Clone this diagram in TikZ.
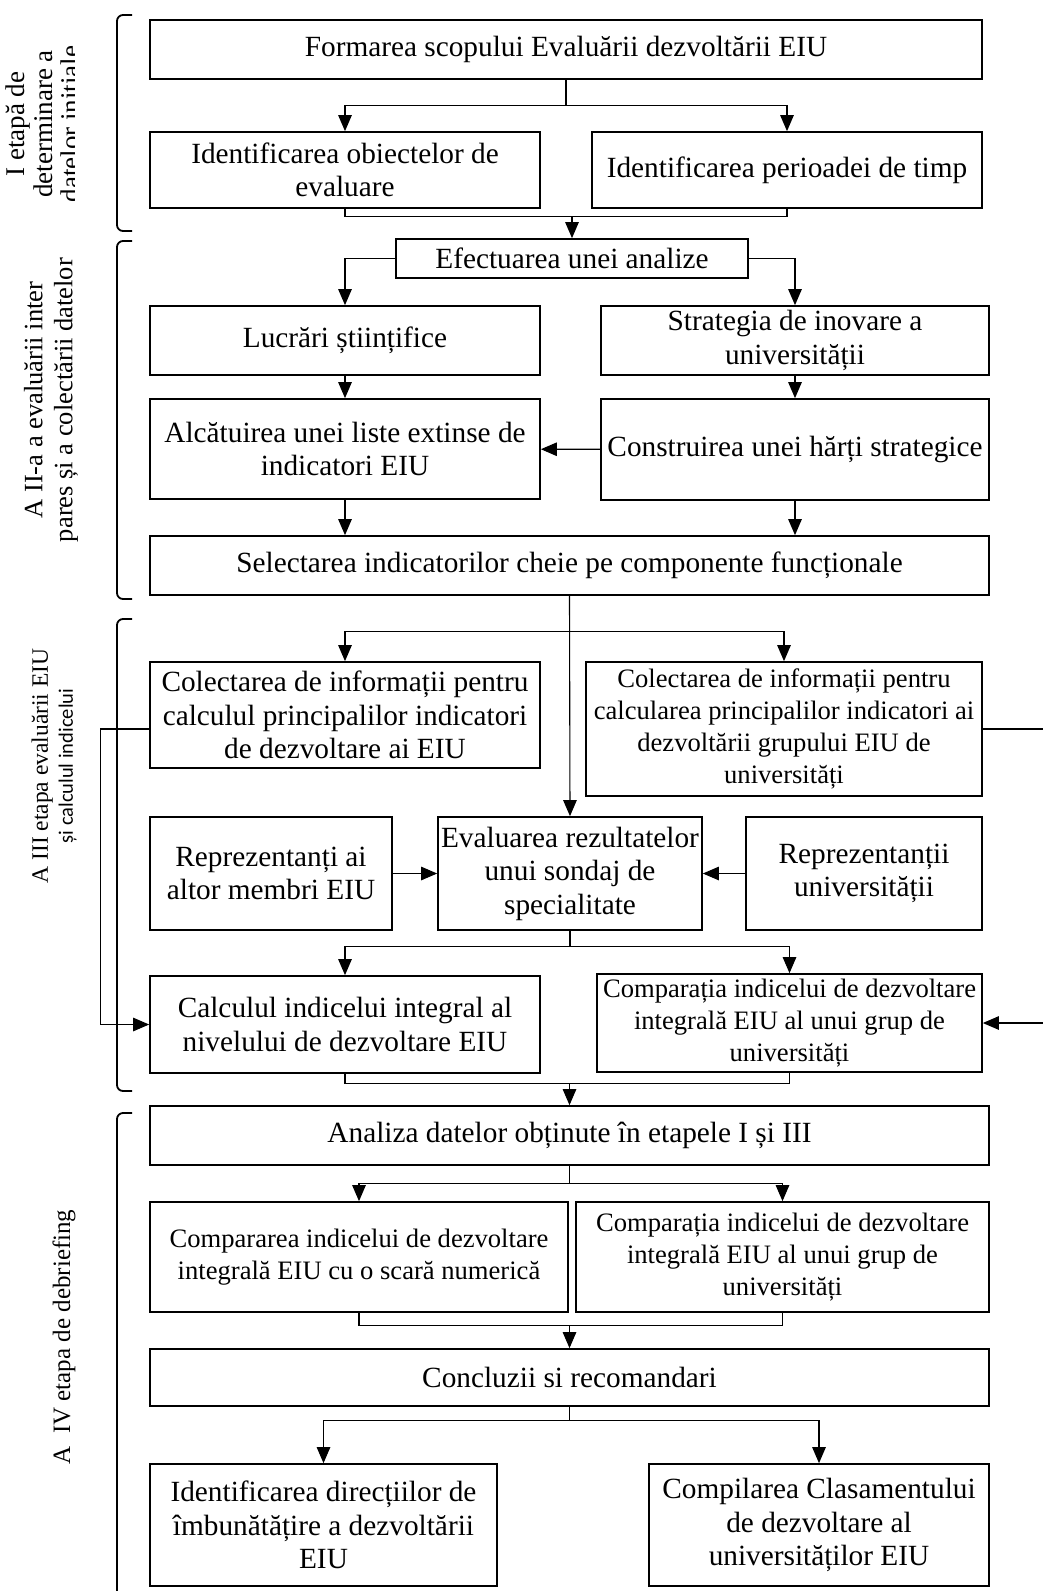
\documentclass[tikz,border=0pt]{standalone}
\usepackage{fontspec}
\setmainfont{Liberation Serif}
\newfontfamily\labelsans{Carlito}
\usetikzlibrary{arrows.meta}

\begin{document}
\begin{tikzpicture}[x=1pt,y=-1pt,->,>={Triangle[length=16pt,width=13.5pt]},line width=1.1pt,
    main node/.style={draw,line width=1.7pt,align=center,inner sep=0pt,font=\fontsize{29.3}{33.5}\selectfont},
    small node/.style={main node,font=\fontsize{26.6}{32}\selectfont},
    side label/.style={rotate=90,align=center,font=\fontsize{26.5}{30}\selectfont},
    brace line/.style={-,line width=1.8pt,rounded corners=6pt}]

\useasboundingbox (0,0) rectangle (1043,1591);

% stage I
\node[main node,minimum width=832pt,minimum height=59pt] (1) at (566,49.5) {Formarea scopului Evaluării dezvoltării EIU};
\node[main node,minimum width=390pt,minimum height=76pt] (2) at (345,170) {Identificarea obiectelor de\\evaluare};
\node[main node,minimum width=390pt,minimum height=76pt] (3) at (787,170) {Identificarea perioadei de timp};

% stage II
\node[main node,minimum width=352pt,minimum height=39pt] (4) at (572,258.5) {Efectuarea unei analize};
\node[main node,minimum width=390pt,minimum height=69pt] (5) at (345,340.5) {Lucrări științifice};
\node[main node,minimum width=388pt,minimum height=69pt] (6) at (795,340.5) {Strategia de inovare a\\universității};
\node[main node,minimum width=390pt,minimum height=100pt] (7) at (345,449) {Alcătuirea unei liste extinse de\\indicatori EIU};
\node[main node,minimum width=388pt,minimum height=101pt] (8) at (795,449.5) {Construirea unei hărți strategice};
\node[main node,minimum width=839pt,minimum height=59pt] (9) at (569.5,565.5) {Selectarea indicatorilor cheie pe componente funcționale};

% stage III
\node[main node,minimum width=390pt,minimum height=106pt] (10) at (345,715) {Colectarea de informații pentru\\calculul principalilor indicatori\\de dezvoltare ai EIU};
\node[small node,minimum width=396pt,minimum height=134pt] (11) at (784,729) {Colectarea de informații pentru\\calcularea principalilor indicatori ai\\dezvoltării grupului EIU de\\universități};
\node[main node,minimum width=264pt,minimum height=113pt] (12) at (570,873.5) {Evaluarea rezultatelor\\unui sondaj de\\specialitate};
\node[main node,minimum width=242pt,minimum height=113pt] (13) at (271,873.5) {Reprezentanți ai\\altor membri EIU};
\node[main node,minimum width=236pt,minimum height=113pt] (14) at (864,873.5) {Reprezentanții\\universității};
\node[main node,minimum width=390pt,minimum height=97pt] (15) at (345,1024.5) {Calculul indicelui integral al\\nivelului de dezvoltare EIU};
\node[small node,minimum width=385pt,minimum height=98pt] (16) at (789.5,1023) {Comparația indicelui de dezvoltare\\integrală EIU al unui grup de\\universități};

% stage IV
\node[main node,minimum width=839pt,minimum height=59pt] (17) at (569.5,1135.5) {Analiza datelor obținute în etapele I și III};
\node[small node,minimum width=418pt,minimum height=110pt] (18) at (359,1257) {Compararea indicelui de dezvoltare\\integrală EIU cu o scară numerică};
\node[small node,minimum width=413pt,minimum height=110pt] (19) at (782.5,1257) {Comparația indicelui de dezvoltare\\integrală EIU al unui grup de\\universități};
\node[main node,minimum width=839pt,minimum height=57pt] (20) at (569.5,1377.5) {Concluzii si recomandari};
\node[main node,minimum width=347pt,minimum height=122pt] (21) at (323.5,1525) {Identificarea direcțiilor de\\îmbunătățire a dezvoltării\\EIU};
\node[main node,minimum width=340pt,minimum height=122pt] (22) at (819,1525) {Compilarea Clasamentului\\de dezvoltare al\\universităților EIU};

% side labels
\begin{scope}
  \clip (0,0) rectangle (74,240);
  \node[side label,font=\fontsize{27}{27.5}\selectfont] (l1) at (46,124) {I etapă de\\determinare a\\datelor inițiale};
\end{scope}
\node[side label] (l2) at (51,400) {A II-a a evaluării inter\\pares și a colectării datelor};
\node[side label,font=\fontsize{23.5}{25}\selectfont] (l3) at (54,766) {A III etapa evaluării EIU\\{\labelsans\fontsize{20.5}{25}\selectfont și calculul indicelui}};
\node[side label,font=\fontsize{25}{30}\selectfont] (l4) at (64,1337) {A\ \ IV etapa de debriefing};

\draw[brace line] (132,15) -- (117,15) -- (117,231) -- (132,231);
\draw[brace line] (132,241) -- (117,241) -- (117,599) -- (132,599);
\draw[brace line] (132,619) -- (117,619) -- (117,1091) -- (132,1091);
\draw[brace line] (132,1113) -- (117,1113) -- (117,1630);

% connectors, stage I
\draw[-] (1.south) -- ++(0,26) coordinate (b1);
\draw (b1) -| (2.north);
\draw (b1) -| (3.north);
\draw[-] (2.south) -- ++(0,8) coordinate (m1) -| (3.south);
\draw (m1 -| 4.north) -- (4.north);

% stage II
\draw (4.west) -| (5.north);
\draw (4.east) -| (6.north);
\path (5) edge (7)
      (6) edge (8)
      (8) edge (7);
\draw (7.south) -- (7.south |- 9.north);
\draw (8.south) -- (8.south |- 9.north);

% stage III
\draw (9.south) -- (12.north);
\path (9.south) ++(0,36) coordinate (b2);
\draw (b2) -| (10.north);
\draw (b2) -| (11.north);
\path (13) edge (12)
      (14) edge (12);
\draw[-] (12.south) -- ++(0,16) coordinate (b3);
\draw (b3) -| (15.north);
\draw (b3) -| (16.north);
\draw (10.west |- 11.west) -- ++(-49,0) |- (15.west);
\draw (11.east) -- ++(80,0) |- (16.east);
\draw[-] (15.south) -- ++(0,10) coordinate (m3) -| (16.south);
\draw (m3 -| 17.north) -- (17.north);

% stage IV
\draw[-] (17.south) -- ++(0,18) coordinate (b4);
\draw (b4) -| (18.north);
\draw (b4) -| (19.north);
\draw[-] (18.south) -- ++(0,13) coordinate (m4) -| (19.south);
\draw (m4 -| 20.north) -- (20.north);
\draw[-] (20.south) -- ++(0,14) coordinate (b5);
\draw (b5) -| (21.north);
\draw (b5) -| (22.north);

\end{tikzpicture}
\end{document}
